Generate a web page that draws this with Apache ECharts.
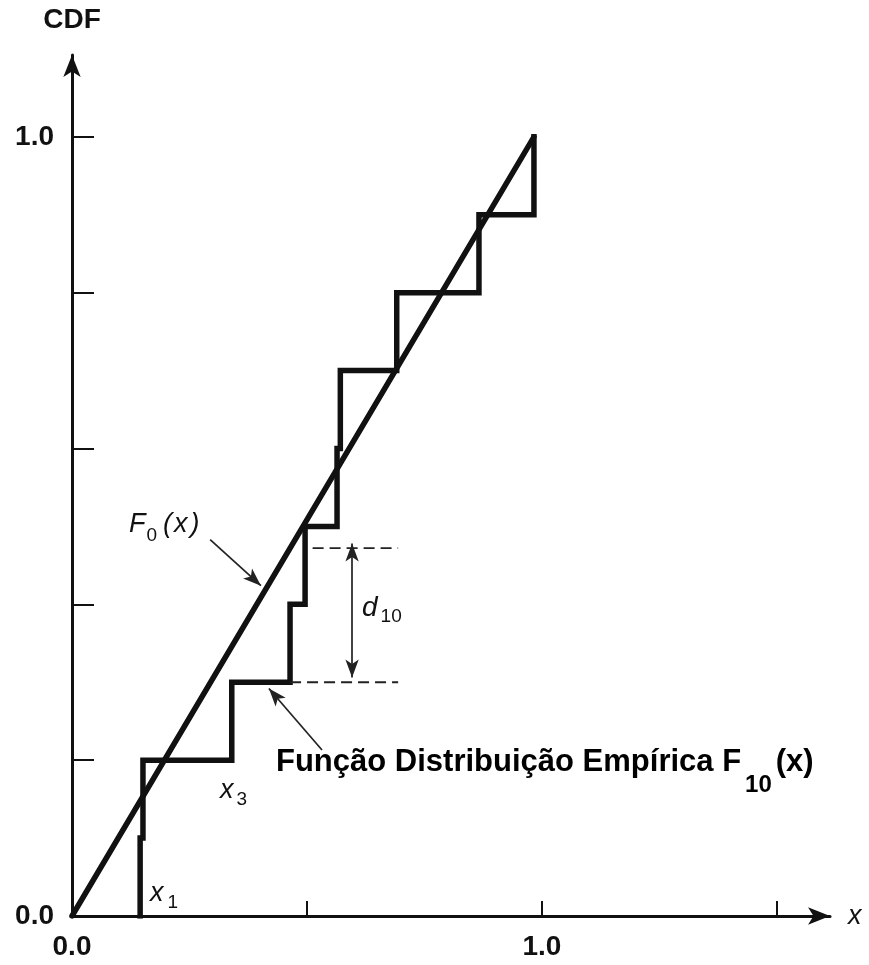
<!DOCTYPE html>
<html>
<head>
<meta charset="utf-8">
<script src="https://cdn.jsdelivr.net/npm/echarts@6/dist/echarts.min.js"></script>
<style>
  html, body { margin: 0; padding: 0; background: #fff; }
  #chart { width: 869px; height: 965px; }
</style>
</head>
<body>
<div id="chart"></div>
<script>
// Ten ordered observations x(1) .. x(10)
const sampleX = [0.145, 0.151, 0.340, 0.464, 0.496, 0.564, 0.571, 0.691, 0.866, 0.983];
// Empirical CDF level reached at each observation
const ecdfLevels = [0.1, 0.2, 0.3, 0.4, 0.5, 0.6, 0.7, 0.8, 0.9, 1.0];
// Hypothesised distribution F0(x): straight line through these points
const f0X = [0, 0.983];
const f0Y = [0, 1.0];
// Axis tick positions and labelled values
const xTicks = [0.5, 1.0, 1.5];
const xLabels = [0, 1.0];
const yTicks = [0.2, 0.4, 0.6, 0.8, 1.0];
const yLabels = [0, 1.0];

const FONT = '"Liberation Sans", Arial, Helvetica, sans-serif';
const INK = '#111';

function f0(x) {
  for (let i = 0; i < f0X.length - 1; i++) {
    if (x <= f0X[i + 1]) {
      const t = (x - f0X[i]) / (f0X[i + 1] - f0X[i]);
      return f0Y[i] + t * (f0Y[i + 1] - f0Y[i]);
    }
  }
  return f0Y[f0Y.length - 1];
}

// Staircase path of the empirical CDF
const ecdfPath = [[sampleX[0], 0]];
for (let i = 0; i < sampleX.length; i++) {
  ecdfPath.push([sampleX[i], ecdfLevels[i]]);
  if (i + 1 < sampleX.length) ecdfPath.push([sampleX[i + 1], ecdfLevels[i]]);
}

// Largest gap between F0 and the empirical CDF (just before a jump)
let dIdx = 0, dMax = -1;
for (let i = 0; i < sampleX.length; i++) {
  const before = i === 0 ? 0 : ecdfLevels[i - 1];
  const gap = f0(sampleX[i]) - before;
  if (gap > dMax) { dMax = gap; dIdx = i; }
}
const dX = sampleX[dIdx];
const dTop = f0(dX);
const dBottom = dIdx === 0 ? 0 : ecdfLevels[dIdx - 1];

// Placement of the d10 bracket (data units)
const bracketEnd = 0.694;
const bracketTopStart = 0.512;
const bracketArrowX = 0.596;

const chart = echarts.init(document.getElementById('chart'), null, { renderer: 'canvas' });

const arrowLine = { color: '#222', width: 1.7, type: 'solid' };
const italic = (size) => ({ fontFamily: FONT, fontStyle: 'italic', fontSize: size, verticalAlign: 'top' });

chart.setOption({
  animation: false,
  backgroundColor: '#fff',
  grid: { left: 72, right: 39, top: 55, bottom: 49, containLabel: false },
  xAxis: {
    type: 'value', min: 0, max: 1.613,
    name: 'x', nameLocation: 'end', nameGap: 18,
    nameTextStyle: { fontFamily: FONT, fontStyle: 'italic', fontSize: 27, color: INK, verticalAlign: 'middle' },
    axisLine: { show: true, symbol: ['none', 'arrow'], symbolSize: [13, 22], lineStyle: { color: INK, width: 3 } },
    axisTick: { show: true, inside: true, length: 15, customValues: xTicks, lineStyle: { color: INK, width: 2 } },
    axisLabel: { show: true, customValues: xLabels, margin: 17, fontFamily: FONT, fontSize: 28, fontWeight: 'bold', color: INK,
      formatter: v => v.toFixed(1) },
    splitLine: { show: false }
  },
  yAxis: {
    type: 'value', min: 0, max: 1.105,
    name: 'CDF', nameLocation: 'end', nameGap: 21,
    nameTextStyle: { fontFamily: FONT, fontWeight: 'bold', fontSize: 28, color: INK },
    axisLine: { show: true, symbol: ['none', 'arrow'], symbolSize: [13, 22], lineStyle: { color: INK, width: 3 } },
    axisTick: { show: true, inside: true, length: 22, customValues: yTicks, lineStyle: { color: INK, width: 2 } },
    axisLabel: { show: true, customValues: yLabels, margin: 18, fontFamily: FONT, fontSize: 28, fontWeight: 'bold', color: INK,
      formatter: v => v.toFixed(1) },
    splitLine: { show: false }
  },
  series: [
    {
      name: 'F0', type: 'line', symbol: 'none', silent: true,
      data: f0X.map((x, i) => [x, f0Y[i]]),
      lineStyle: { color: INK, width: 5.5, cap: 'round' },
      z: 3
    },
    {
      name: 'F10', type: 'line', symbol: 'none', silent: true,
      data: ecdfPath,
      lineStyle: { color: INK, width: 5.5, join: 'miter', cap: 'square' },
      z: 3
    },
    {
      name: 'd10 top', type: 'line', symbol: 'none', silent: true,
      data: [[bracketTopStart, dTop], [bracketEnd, dTop]],
      lineStyle: { color: '#222', width: 1.8, type: [11, 6] }
    },
    {
      name: 'd10 bottom', type: 'line', symbol: 'none', silent: true,
      data: [[dX, dBottom], [bracketEnd, dBottom]],
      lineStyle: { color: '#222', width: 1.8, type: [11, 6] },
      markLine: {
        silent: true, animation: false,
        label: { show: false },
        lineStyle: arrowLine,
        symbolSize: [10, 18],
        data: [
          // d10 double-headed arrow
          [{ coord: [bracketArrowX, dTop + 0.006], symbol: 'arrow' }, { coord: [bracketArrowX, dBottom + 0.006], symbol: 'arrow' }],
          // pointer to F0(x)
          [{ coord: [0.294, 0.483], symbol: 'none' }, { coord: [0.402, 0.424], symbol: 'arrow' }],
          // pointer to the empirical CDF
          [{ coord: [0.532, 0.213], symbol: 'none' }, { coord: [0.419, 0.292], symbol: 'arrow' }]
        ]
      }
    }
  ],
  graphic: [
    {
      type: 'text', x: 129, y: 511, silent: true,
      style: {
        text: '{f|F}{s|0}{p|(}{f|x}{q|)}', fill: INK,
        rich: {
          f: italic(27),
          s: { fontFamily: FONT, fontSize: 19, verticalAlign: 'top', padding: [15, 6, 0, 1] },
          p: Object.assign(italic(27), { padding: [0, 2, 0, 0] }),
          q: Object.assign(italic(27), { padding: [0, 0, 0, 3] })
        }
      }
    },
    {
      type: 'text', x: 362, y: 594, silent: true,
      style: {
        text: '{f|d}{s|10}', fill: INK,
        rich: {
          f: italic(28),
          s: { fontFamily: FONT, fontSize: 19, verticalAlign: 'top', padding: [13, 0, 0, 3] }
        }
      }
    },
    {
      type: 'text', x: 220, y: 777, silent: true,
      style: {
        text: '{f|x}{s|3}', fill: INK,
        rich: {
          f: italic(27),
          s: { fontFamily: FONT, fontSize: 19, verticalAlign: 'top', padding: [13, 0, 0, 3] }
        }
      }
    },
    {
      type: 'text', x: 150, y: 880, silent: true,
      style: {
        text: '{f|x}{s|1}', fill: INK,
        rich: {
          f: italic(27),
          s: { fontFamily: FONT, fontSize: 19, verticalAlign: 'top', padding: [13, 0, 0, 4] }
        }
      }
    },
    {
      type: 'text', x: 276, y: 747, silent: true,
      style: {
        text: '{m|Função Distribuição Empírica F}{s|10}{m|(x)}', fill: '#000',
        rich: {
          m: { fontFamily: FONT, fontWeight: 'bold', fontSize: 31, verticalAlign: 'top' },
          s: { fontFamily: FONT, fontWeight: 'bold', fontSize: 24, verticalAlign: 'top', padding: [26, 4, 0, 4] }
        }
      }
    }
  ]
});
</script>
</body>
</html>
